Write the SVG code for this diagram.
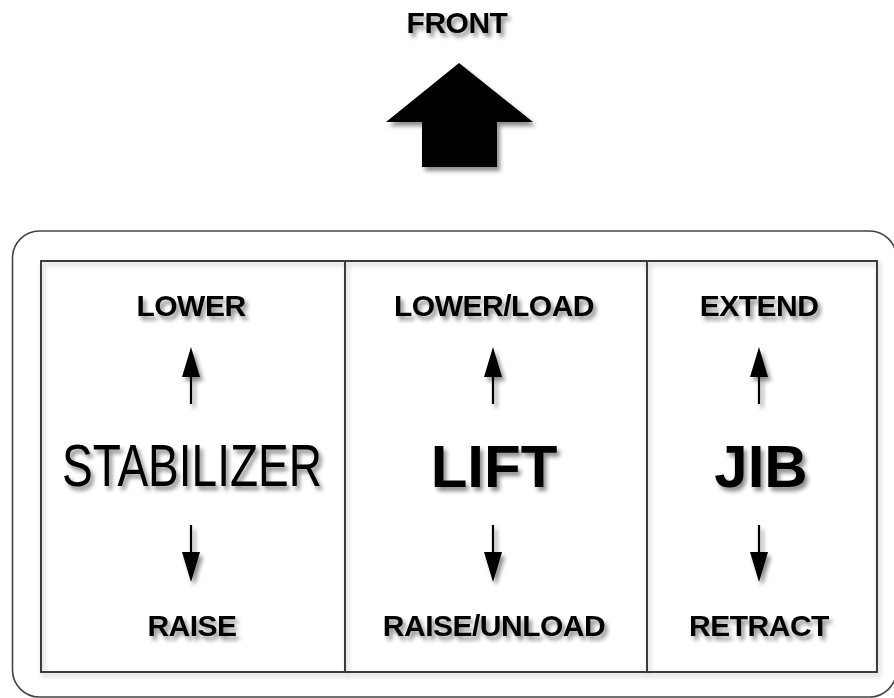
<svg xmlns="http://www.w3.org/2000/svg" width="894" height="698" viewBox="0 0 894 698">
  <defs>
    <filter id="sh" x="-20%" y="-20%" width="150%" height="160%">
      <feDropShadow dx="3" dy="4" stdDeviation="2.2" flood-color="#000" flood-opacity="0.45"/>
    </filter>
    <filter id="shl" x="-5%" y="-5%" width="110%" height="115%">
      <feDropShadow dx="2" dy="3" stdDeviation="2.5" flood-color="#000" flood-opacity="0.25"/>
    </filter>
    <path id="up" d="M0 -28 L-9 2 L9 2 Z M-1.1 2 L1.1 2 L1.1 29 L-1.1 29 Z" fill="#000"/>
  </defs>
  <style>
    .lbl { font-family: "Liberation Sans", Arial, sans-serif; font-weight: bold; font-size: 30px; fill: #000; text-anchor: middle; letter-spacing: -0.5px; }
    .big { font-family: "Liberation Sans", Arial, sans-serif; font-size: 60px; fill: #000; text-anchor: middle; }
    .bold { font-weight: bold; }
    .frame { fill: none; stroke: #3a3a3a; stroke-width: 2; }
    .outer { fill: #fff; stroke: #444; stroke-width: 1.6; }
  </style>
  <rect width="894" height="698" fill="#fff"/>

  <g id="front">
    <text class="lbl" x="457" y="33" font-size="29" filter="url(#sh)">FRONT</text>
    <polygon points="459,63 533,122 497,122 497,167 422,167 422,122 386,122" fill="#000" filter="url(#sh)"/>
  </g>

  <g id="panel">
    <rect class="outer" x="12.5" y="231" width="884" height="466" rx="27" ry="27"/>
    <g filter="url(#shl)">
      <rect class="frame" x="41" y="261" width="836" height="411"/>
      <line class="frame" x1="345" y1="261" x2="345" y2="672"/>
      <line class="frame" x1="647" y1="261" x2="647" y2="672"/>
    </g>
  </g>

  <g id="stabilizer" filter="url(#sh)">
    <text class="lbl" x="191" y="316">LOWER</text>
    <text class="big" x="192" y="486" textLength="260" lengthAdjust="spacingAndGlyphs">STABILIZER</text>
    <text class="lbl" x="192" y="636">RAISE</text>
  </g>

  <g id="lift" filter="url(#sh)">
    <text class="lbl" x="494" y="316">LOWER/LOAD</text>
    <text class="big bold" x="494" y="487">LIFT</text>
    <text class="lbl" x="494" y="636">RAISE/UNLOAD</text>
  </g>

  <g id="jib" filter="url(#sh)">
    <text class="lbl" x="759" y="316">EXTEND</text>
    <text class="big bold" x="761" y="487">JIB</text>
    <text class="lbl" x="759" y="636">RETRACT</text>
  </g>

  <g id="connectors" filter="url(#sh)">
    <use href="#up" transform="translate(191,375)"/>
    <use href="#up" transform="translate(493,375)"/>
    <use href="#up" transform="translate(759,375)"/>
    <use href="#up" transform="translate(191,554) rotate(180)"/>
    <use href="#up" transform="translate(493,554) rotate(180)"/>
    <use href="#up" transform="translate(759,554) rotate(180)"/>
  </g>
</svg>
